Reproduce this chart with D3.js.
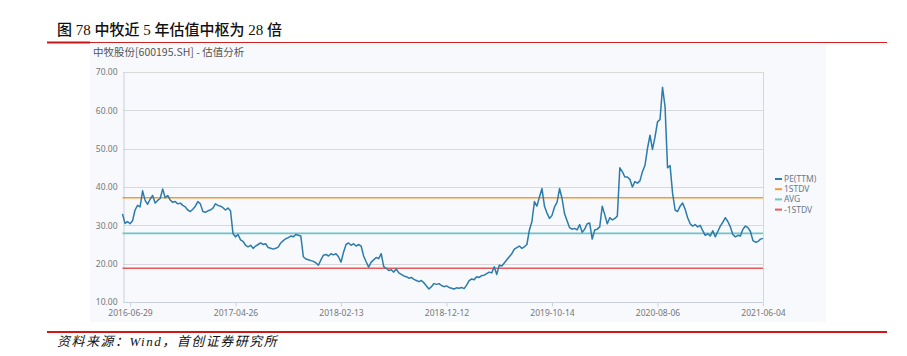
<!DOCTYPE html>
<html>
<head>
<meta charset="utf-8">
<script src="https://cdn.jsdelivr.net/npm/d3@7"></script>
<style>
  html, body { margin: 0; padding: 0; background: #ffffff; }
  svg { display: block; }
</style>
</head>
<body>
<svg id="chart" width="907" height="356"></svg>
<script>
// ---------- DATA ----------
const titleText = "图 78 中牧近 5 年估值中枢为 28 倍";
const subtitleText = "中牧股份[600195.SH] - 估值分析";
const sourceText = "资料来源：Wind，首创证券研究所";

const seriesNames = ["PE(TTM)", "1STDV", "AVG", "-1STDV"];
const tickLabels = ["2016-06-29", "2017-04-26", "2018-02-13", "2018-12-12", "2019-10-14", "2020-08-06", "2021-06-04"];
const yTicks = [10, 20, 30, 40, 50, 60, 70];

const peValues = [
  33.0, 30.5, 31.0, 30.4, 31.2, 34.0, 35.2, 34.8, 39.0, 36.5,
  35.5, 36.8, 37.8, 35.8, 36.5, 37.0, 39.5, 37.2, 37.8, 36.6,
  36.0, 36.2, 35.6, 35.8, 35.2, 34.8, 34.0, 33.6, 34.2, 35.0,
  36.2, 35.6, 33.6, 33.4, 33.8, 34.0, 34.5, 35.6, 35.2, 35.0,
  34.6, 34.0, 34.5, 33.8, 27.8, 27.0, 27.6, 26.2, 25.8, 24.8,
  24.4, 24.8, 24.0, 24.6, 25.0, 25.4, 25.0, 25.2, 24.2, 24.0,
  23.8, 24.0, 24.3, 25.4, 26.0, 26.5, 26.8, 27.2, 27.0, 27.6,
  27.4, 27.2, 21.8, 21.2, 21.0, 20.8, 20.6, 20.2, 19.6, 21.0,
  22.2, 22.4, 22.0, 22.6, 22.3, 22.6, 21.8, 20.4, 23.0, 25.0,
  25.4, 24.8, 25.2, 24.6, 25.0, 24.6, 22.0, 20.5, 19.1, 20.4,
  21.0, 21.6, 21.3, 22.6, 19.2, 18.8, 18.2, 18.4, 17.8, 18.6,
  17.6, 17.2, 16.8, 16.6, 16.2, 16.4, 15.9, 15.6, 15.3, 15.6,
  15.0, 14.2, 13.4, 14.0, 14.8, 14.6, 14.8, 14.3, 14.0, 14.2,
  13.8, 13.6, 13.4, 13.7, 13.6, 13.8, 13.5, 14.4, 15.6,
  16.0, 15.8, 16.6, 16.4, 16.9, 17.0, 17.4, 17.8, 17.6, 19.2,
  17.2, 19.6, 19.4, 20.2, 21.0, 21.8, 22.6, 23.8, 24.2, 24.6,
  24.0, 24.4, 25.0, 28.8, 31.0, 36.2, 35.0, 37.4, 39.6, 35.0,
  33.2, 31.8, 32.6, 34.8, 36.0, 39.6, 37.0, 33.0, 31.2, 29.4,
  29.0, 29.2, 28.8, 30.2, 28.2, 29.0, 30.4, 30.6, 26.4, 28.8,
  29.0, 29.6, 35.0, 32.8, 30.4, 32.0, 31.4, 31.8, 32.4, 45.0,
  44.0, 42.6, 42.6, 42.0, 40.0, 41.4, 41.0, 41.6, 44.0, 45.6,
  50.0, 53.5, 49.8, 53.0, 57.0, 57.6, 66.0, 61.0, 45.0, 45.6,
  38.4, 34.0, 33.6, 35.0, 35.8, 34.2, 32.0, 30.4, 29.8, 30.2,
  29.6, 30.0, 28.6, 27.4, 27.8, 27.2, 28.6, 27.0, 28.4, 29.8,
  30.8, 32.0, 31.0, 29.6, 27.6, 27.0, 27.4, 27.2, 29.0, 29.8,
  29.4, 28.4, 26.0, 25.6, 25.8, 26.4, 26.6
];
const stdUpper = 37.2;
const avgValue = 27.9;
const stdLower = 18.8;

// ---------- LAYOUT ----------
const colors = ["#2b7bab", "#f79a2e", "#6cc6c6", "#e85a5a"];
const svg = d3.select("#chart");
const plot = { left: 123, right: 763, top: 72, bottom: 302 };
const N = peValues.length;
const firstTick = 3, tickStep = 42;

const x = d3.scaleLinear().domain([0, N - 1]).range([122.5, plot.right]);
const y = d3.scaleLinear().domain([10, 70]).range([plot.bottom, plot.top]);

// title
svg.append("text")
  .attr("x", 57).attr("y", 35)
  .attr("font-family", "'Liberation Serif', 'Noto Sans CJK SC', serif")
  .attr("font-size", 15).attr("font-weight", 500)
  .attr("fill", "#111")
  .text(titleText);

// top rule
svg.append("line").attr("x1", 47).attr("x2", 887).attr("y1", 42.5).attr("y2", 42.5)
  .attr("stroke", "#d42020").attr("stroke-width", 1);
svg.append("line").attr("x1", 47).attr("x2", 90).attr("y1", 42.5).attr("y2", 42.5)
  .attr("stroke", "#c01818").attr("stroke-width", 2);

// panel
svg.append("rect").attr("x", 90).attr("y", 44).attr("width", 736).attr("height", 278)
  .attr("fill", "#f7f9fc");

svg.append("text")
  .attr("x", 93).attr("y", 56)
  .attr("font-family", "'Noto Sans CJK SC', 'Noto Sans', sans-serif")
  .attr("font-size", 10.5).attr("fill", "#555")
  .text(subtitleText);

// grid lines
const gGrid = svg.append("g");
gGrid.selectAll("line.grid").data(yTicks).enter().append("line")
  .attr("x1", plot.left).attr("x2", plot.right)
  .attr("y1", d => Math.round(y(d)) + 0.5).attr("y2", d => Math.round(y(d)) + 0.5)
  .attr("stroke", d => d === 10 ? "#c9d2de" : "#d9d9d9").attr("stroke-width", 1);
// right border
svg.append("line").attr("x1", plot.right + 0.5).attr("x2", plot.right + 0.5)
  .attr("y1", plot.top).attr("y2", plot.bottom)
  .attr("stroke", "#d4d8de");

// y axis
const yAxis = d3.axisLeft(y).tickValues(yTicks).tickFormat(d3.format(".2f")).tickSize(0).tickPadding(6);
const gy = svg.append("g").attr("transform", `translate(${plot.left + 0.5},0)`).call(yAxis);
gy.select(".domain").attr("stroke", "#c9d2de");
gy.selectAll("text").attr("font-family", "'Noto Sans', 'Open Sans', sans-serif")
  .attr("font-size", 8.5).attr("fill", "#777");

// x axis
const tickIdx = tickLabels.map((_, i) => firstTick + i * tickStep);
const xAxis = d3.axisBottom(x).tickValues(tickIdx)
  .tickFormat((d, i) => tickLabels[i]).tickSize(4).tickPadding(3);
const gx = svg.append("g").attr("transform", `translate(0,${plot.bottom + 0.5})`).call(xAxis);
gx.select(".domain").remove();
gx.selectAll("line").attr("stroke", "#c9d2de");
gx.selectAll("text").attr("font-family", "'Noto Sans', 'Open Sans', sans-serif")
  .attr("font-size", 8.5).attr("fill", "#777");

// reference lines
const refVals = [stdUpper, avgValue, stdLower];
const lineGen = d3.line().x((d, i) => x(i)).y(d => y(d));
refVals.forEach((v, k) => {
  svg.append("path")
    .datum(peValues.map(() => v))
    .attr("d", lineGen)
    .attr("fill", "none")
    .attr("stroke", colors[k + 1])
    .attr("stroke-width", 1.6);
});

// PE line
svg.append("path")
  .datum(peValues)
  .attr("d", lineGen)
  .attr("fill", "none")
  .attr("stroke", colors[0])
  .attr("stroke-width", 1.5)
  .attr("stroke-linejoin", "round");

// legend
const lg = svg.append("g").attr("transform", "translate(775,179)");
seriesNames.forEach((name, i) => {
  const g = lg.append("g").attr("transform", `translate(0,${i * 10.2})`);
  g.append("line").attr("x1", 0).attr("x2", 7).attr("y1", 0).attr("y2", 0)
    .attr("stroke", colors[i]).attr("stroke-width", 2);
  g.append("text").attr("x", 9).attr("y", 3)
    .attr("font-family", "'Noto Sans', 'Open Sans', sans-serif")
    .attr("font-size", 8.5).attr("fill", "#6b7a8a").text(name);
});

// bottom rule
svg.append("line").attr("x1", 47).attr("x2", 887).attr("y1", 332).attr("y2", 332)
  .attr("stroke", "#d01818").attr("stroke-width", 2);

// source
svg.append("text")
  .attr("x", 57).attr("y", 346)
  .attr("font-family", "'Liberation Serif', 'Noto Sans CJK SC', serif")
  .attr("font-style", "italic")
  .attr("font-size", 13).attr("fill", "#111")
  .attr("letter-spacing", 1.5)
  .text(sourceText);
</script>
</body>
</html>
